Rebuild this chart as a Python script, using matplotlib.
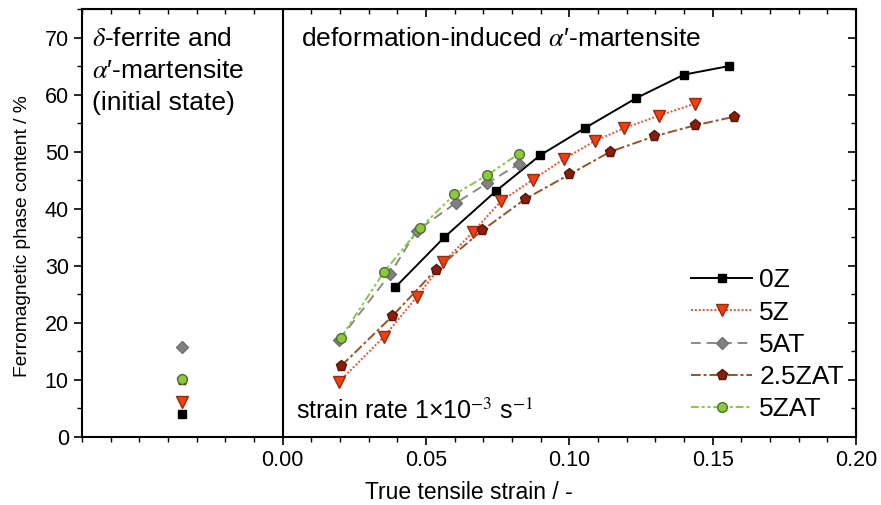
import matplotlib
matplotlib.use("Agg")
import matplotlib.pyplot as plt
from matplotlib.ticker import MultipleLocator

plt.rcParams['font.family'] = ['Liberation Sans', 'DejaVu Sans']
plt.rcParams['mathtext.fontset'] = 'stix'

# data
x_init = -0.035
init_vals = {'0Z': 4.0, '5Z': 6.1, '5AT': 15.8, '2.5ZAT': 10.0, '5ZAT': 10.2}

x_0z = [0.0392, 0.0564, 0.0744, 0.0899, 0.1053, 0.1234, 0.1400, 0.1557]
y_0z = [26.2, 35.0, 43.1, 49.4, 54.1, 59.4, 63.5, 65.0]

x_5z = [0.0197, 0.0354, 0.0467, 0.0561, 0.0665, 0.0761, 0.0873, 0.0983, 0.1090, 0.1190, 0.1312, 0.1437]
y_5z = [9.7, 17.6, 24.5, 30.6, 36.0, 41.3, 45.1, 48.8, 51.9, 54.1, 56.3, 58.4]

x_5at = [0.0197, 0.0374, 0.0467, 0.0604, 0.0714, 0.0823]
y_5at = [17.0, 28.5, 36.1, 41.0, 44.5, 47.8]

x_25zat = [0.0205, 0.0383, 0.0534, 0.0696, 0.0846, 0.1000, 0.1143, 0.1297, 0.1437, 0.1573]
y_25zat = [12.5, 21.2, 29.3, 36.2, 41.7, 46.0, 50.0, 52.7, 54.6, 56.1]

x_5zat = [0.0203, 0.0353, 0.0479, 0.0599, 0.0714, 0.0823]
y_5zat = [17.4, 28.9, 36.6, 42.5, 45.9, 49.6]

fig = plt.figure(figsize=(8.81, 5.05), dpi=100)
ax = fig.add_axes([82/881, 68/505, (856-82)/881, (437-9)/505])

styles = {
    '0Z':     dict(color='black', ls='-', marker='s', mfc='black', mec='black', ms=6),
    '5Z':     dict(color='#ff4a2a', ls=(0, (1, 1)), marker='v', mfc='#ee4010', mec='#9a2a10', ms=8),
    '5AT':    dict(color='#8a8a8a', ls=(0, (5, 3)), marker='D', mfc='#808080', mec='#707070', ms=6),
    '2.5ZAT': dict(color='#9a5028', ls=(0, (5, 1.5, 1.5, 1.5)), marker='p', mfc='#8a1e0c', mec='#5a1208', ms=8),
    '5ZAT':   dict(color='#8cc83c', ls=(0, (4, 1.5, 1.5, 1.5, 1.5, 1.5)), marker='o', mfc='#8cc83c', mec='#507030', ms=7),
}
series = {
    '0Z': (x_0z, y_0z),
    '5Z': (x_5z, y_5z),
    '5AT': (x_5at, y_5at),
    '2.5ZAT': (x_25zat, y_25zat),
    '5ZAT': (x_5zat, y_5zat),
}

for name, (xs, ys) in series.items():
    st = styles[name]
    ax.plot(xs, ys, lw=1.4, label=name, **st)
    ax.plot([x_init], [init_vals[name]], ls='none', marker=st['marker'],
            mfc=st['mfc'], mec=st['mec'], ms=st['ms'])

ax.axvline(0, color='black', lw=1.5)

ax.set_xlim(-0.07, 0.20)
ax.set_ylim(0, 75)
ax.set_xticks([0.00, 0.05, 0.10, 0.15, 0.20])
ax.set_xticklabels(['0.00', '0.05', '0.10', '0.15', '0.20'])
ax.xaxis.set_minor_locator(MultipleLocator(0.01))
ax.set_yticks(range(0, 71, 10))
ax.yaxis.set_minor_locator(MultipleLocator(5))
ax.tick_params(which='major', direction='out', length=6, width=1.2, labelsize=15.5)
ax.tick_params(which='minor', direction='out', length=3.5, width=1.0)
for s in ax.spines.values():
    s.set_linewidth(1.5)

# mirrored inner ticks on top and right
top = ax.secondary_xaxis('top')
top.set_xticks([0.00, 0.05, 0.10, 0.15, 0.20])
top.xaxis.set_minor_locator(MultipleLocator(0.01))
top.tick_params(which='major', direction='in', length=6, width=1.2, labeltop=False)
top.tick_params(which='minor', direction='in', length=3.5, width=1.0)
right = ax.secondary_yaxis('right')
right.set_yticks(range(0, 71, 10))
right.yaxis.set_minor_locator(MultipleLocator(5))
right.tick_params(which='major', direction='in', length=6, width=1.2, labelright=False)
right.tick_params(which='minor', direction='in', length=3.5, width=1.0)

ax.set_xlabel('True tensile strain / -', fontsize=16.5, labelpad=7)
ax.set_ylabel('Ferromagnetic phase content / %', fontsize=13.8)
ax.yaxis.set_label_coords(-0.066, 0.47)

ax.text(-0.0665, 71.9, "$\\delta$-ferrite and\n$\\alpha$\u2032-martensite\n(initial state)",
        fontsize=19, va='top', ha='left', linespacing=1.42)
ax.text(0.0063, 69.8, "deformation-induced $\\alpha$\u2032-martensite",
        fontsize=19, va='center', ha='left')
ax.text(0.0045, 4.5, "strain rate 1\u00d710$^{-3}$ s$^{-1}$",
        fontsize=18, va='center', ha='left')

ax.legend(loc='lower right', bbox_to_anchor=(1.005, 0.0), frameon=False,
          fontsize=19, handlelength=2.3, handletextpad=0.28, labelspacing=0.31,
          borderaxespad=0.2)

fig.savefig('out.png', dpi=100)
